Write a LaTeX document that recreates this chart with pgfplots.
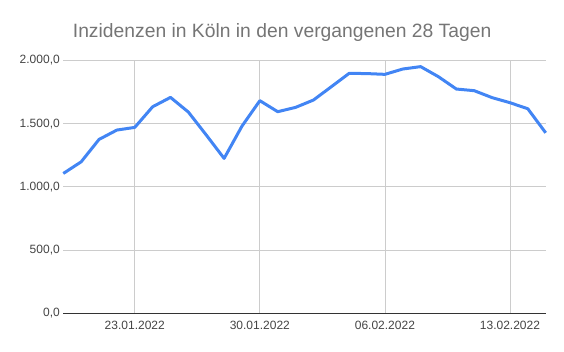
\documentclass[border=0pt]{standalone}
\usepackage{fontspec}
\setmainfont{Liberation Sans}
\usepackage{pgfplots}
\pgfplotsset{compat=1.18}
\definecolor{lineblue}{HTML}{4285F4}
\definecolor{gridgray}{HTML}{CCCCCC}
\definecolor{tickgray}{HTML}{444444}
\definecolor{titlegray}{HTML}{757575}
\definecolor{axisdark}{HTML}{333333}
\begin{document}
\begin{tikzpicture}
\useasboundingbox (0,0) rectangle (564pt,352pt);
\begin{axis}[
  at={(63.3pt,38.5pt)}, anchor=south west,
  scale only axis, width=482.4pt, height=253.2pt,
  xmin=0, xmax=27, ymin=0, ymax=2000,
  xtick={4,11,18,25},
  xticklabels={23.01.2022,30.01.2022,06.02.2022,13.02.2022},
  ytick={0,500,1000,1500,2000},
  yticklabels={{0,0},{500,0},{1.000,0},{1.500,0},{2.000,0}},
  major tick length=0pt,
  grid=major,
  major grid style={gridgray, line width=0.8pt},
  axis x line*=bottom, axis y line*=left,
  x axis line style={axisdark, line width=0.8pt, -},
  y axis line style={draw=none},
  xticklabel style={font=\fontsize{12}{14}\selectfont, text=tickgray, yshift=-4pt},
  yticklabel style={font=\fontsize{12}{14}\selectfont, text=tickgray},
  clip=false,
]
\addplot[lineblue, line width=3pt, line join=round, no marks] coordinates {
(0,1106) (1,1198) (2,1375) (3,1449) (4,1470) (5,1633) (6,1707) (7,1591)
(8,1410) (9,1225) (10,1480) (11,1681) (12,1594) (13,1628) (14,1686)
(15,1791) (16,1897) (17,1895) (18,1889) (19,1931) (20,1950) (21,1870)
(22,1773) (23,1760) (24,1705) (25,1665) (26,1617) (27,1427)
};
\end{axis}
\node[anchor=base west, inner sep=0pt, font=\fontsize{19.3}{23}\selectfont, text=titlegray] at (72.7pt,314.7pt) {Inzidenzen in Köln in den vergangenen 28 Tagen};
\end{tikzpicture}
\end{document}
